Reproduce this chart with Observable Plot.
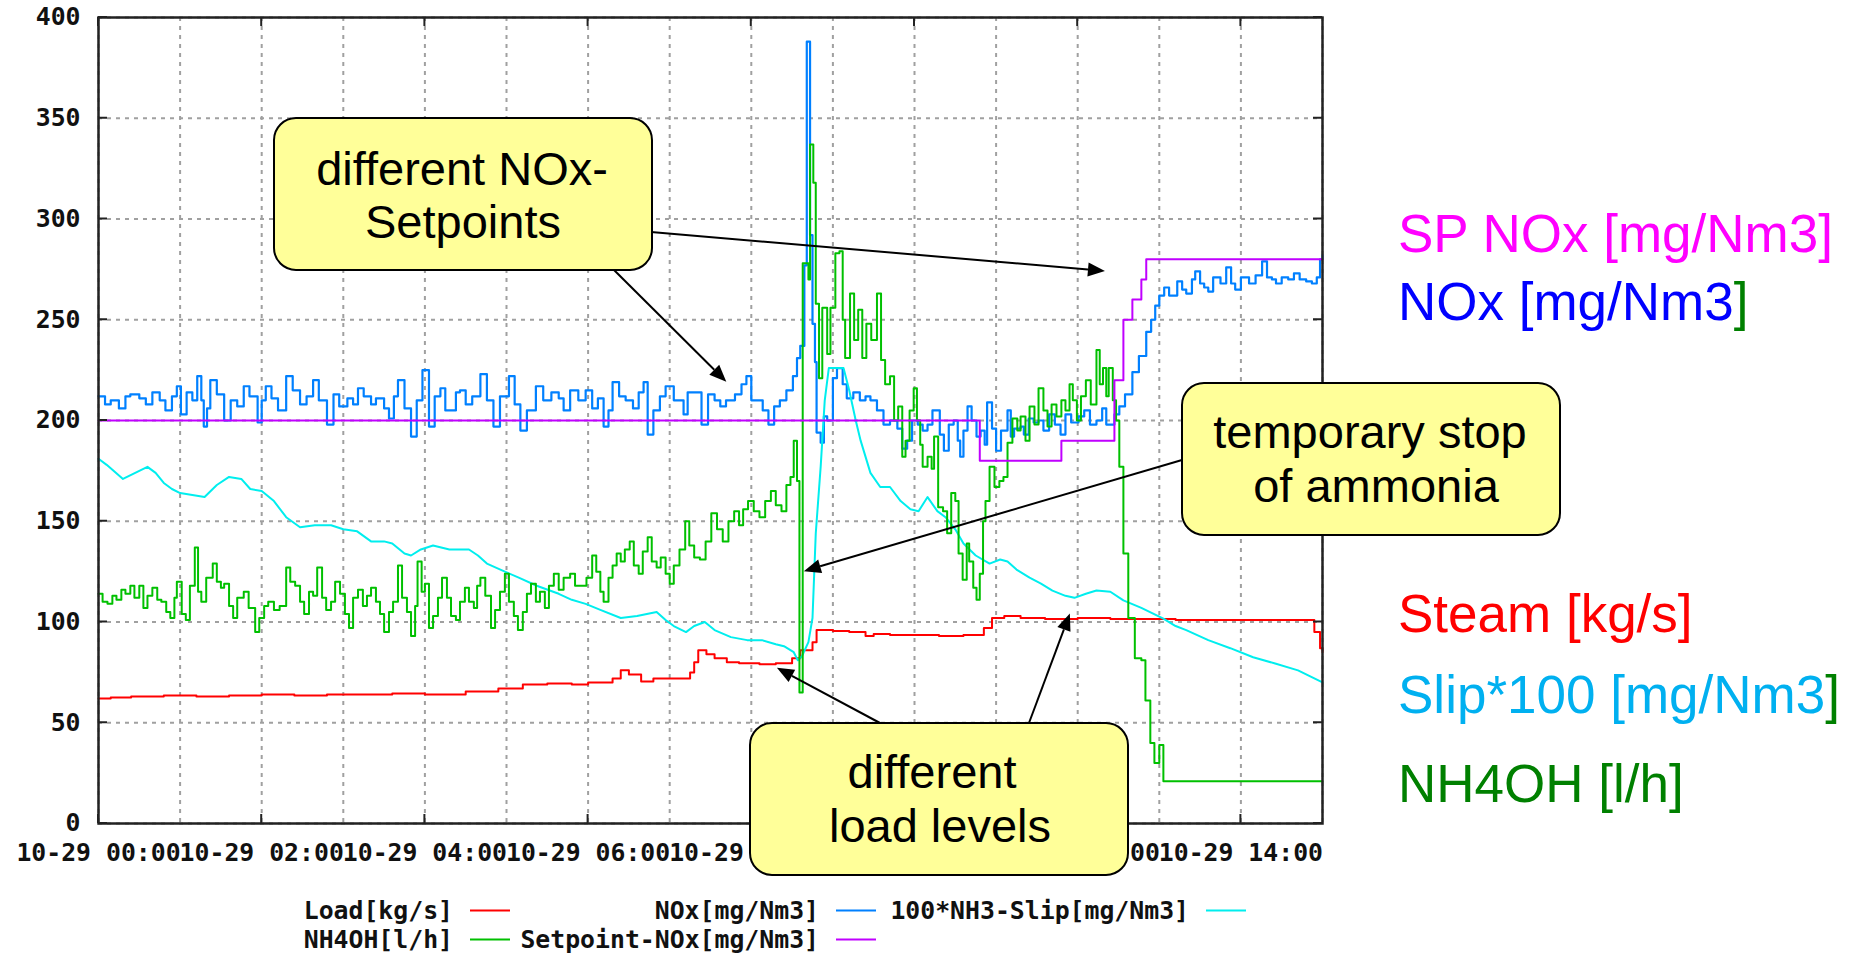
<!DOCTYPE html>
<html><head><meta charset="utf-8">
<script src="https://cdn.jsdelivr.net/npm/d3@7"></script>
<script src="https://cdn.jsdelivr.net/npm/@observablehq/plot@0.6"></script>
<style>
html,body{margin:0;padding:0;background:#fff;}
#chart{position:relative;width:1860px;height:955px;overflow:hidden;}
</style></head><body><div id="chart"></div>
<script>
// ---------- data (hours since 10-29 00:00, value) ----------
const gridHours = [0,1,2,3,4,5,6,7,8,9,10,11,12,13,14,15];
const labelHours = [0,2,4,6,8,10,12,14];
const yTicks = [0,50,100,150,200,250,300,350,400];

const load = [[0,62],[0.15,62.5],[0.4,63],[0.8,63.5],[1.2,63],[1.6,63.5],[2,64],[2.4,63.5],[2.8,64],[3.2,64],[3.6,64.5],[4,64],[4.5,65.5],[4.9,67],[5.2,69],[5.5,69.5],[5.8,69],[6,70],[6.3,72],[6.4,76],[6.5,74],[6.65,70.5],[6.8,72],[7.1,72],[7.25,75],[7.3,80],[7.35,86],[7.45,84],[7.55,82],[7.7,80],[7.85,79.5],[8.1,79],[8.3,79.5],[8.5,82],[8.6,86],[8.75,90],[8.8,96],[9,95.5],[9.2,95],[9.4,93],[9.5,94],[9.7,93.5],[10,93.5],[10.3,93],[10.6,93.5],[10.85,97],[10.95,102],[11.1,103],[11.3,102],[11.6,101.5],[12,102],[12.4,101.5],[12.8,101.5],[13.2,101],[13.6,101],[14,101],[14.4,101],[14.8,101],[14.9,95],[14.97,87],[15,85]];

const nox = [[0,212],[0.08,208],[0.15,210],[0.25,206],[0.33,212],[0.39,213],[0.5,211],[0.58,208],[0.66,214],[0.75,210],[0.82,205],[0.9,212],[0.96,217],[1.01,203],[1.08,214],[1.15,210],[1.21,222],[1.26,210],[1.29,197],[1.33,206],[1.37,220],[1.45,213],[1.54,200],[1.62,210],[1.7,207],[1.78,217],[1.85,212],[1.95,199],[2,210],[2.05,217],[2.12,211],[2.2,205],[2.3,222],[2.38,215],[2.47,208],[2.55,212],[2.63,220],[2.7,210],[2.8,198],[2.88,213],[2.95,207],[3.05,211],[3.12,208],[3.18,216],[3.25,212],[3.34,208],[3.4,211],[3.5,206],[3.56,201],[3.62,212],[3.67,220],[3.75,206],[3.83,192],[3.9,210],[3.97,225],[4.05,197],[4.12,212],[4.19,216],[4.25,205],[4.32,205],[4.38,214],[4.43,215],[4.5,208],[4.58,212],[4.68,223],[4.76,210],[4.84,197],[4.92,212],[5.03,222],[5.1,208],[5.17,195],[5.25,205],[5.36,217],[5.45,210],[5.55,214],[5.64,211],[5.7,205],[5.78,215],[5.88,210],[5.97,215],[6.05,206],[6.12,211],[6.19,197],[6.25,205],[6.3,219],[6.38,212],[6.46,210],[6.55,206],[6.62,214],[6.68,219],[6.73,193],[6.8,205],[6.88,212],[6.95,217],[7.05,210],[7.17,203],[7.22,214],[7.28,214],[7.39,198],[7.47,213],[7.55,210],[7.62,207],[7.69,210],[7.8,213],[7.88,218],[7.94,222],[8,210],[8.07,210],[8.14,205],[8.21,198],[8.28,207],[8.35,210],[8.43,215],[8.51,222],[8.56,231],[8.6,237],[8.65,277],[8.68,388],[8.72,292],[8.75,248],[8.78,229],[8.8,194],[8.85,189],[8.89,202],[8.93,200],[9,221],[9.05,226],[9.12,218],[9.17,211],[9.25,214],[9.33,210],[9.4,212],[9.46,210],[9.54,205],[9.62,198],[9.7,200],[9.79,196],[9.85,186],[9.91,190],[9.97,200],[10.04,198],[10.1,195],[10.16,198],[10.22,205],[10.26,205],[10.31,193],[10.36,185],[10.42,198],[10.48,200],[10.53,190],[10.56,182],[10.6,195],[10.65,207],[10.7,200],[10.76,192],[10.81,195],[10.86,188],[10.89,209],[10.95,196],[11,185],[11.06,195],[11.14,205],[11.18,192],[11.22,196],[11.3,197],[11.34,193],[11.4,201],[11.46,199],[11.52,200],[11.58,195],[11.65,203],[11.72,198],[11.79,193],[11.85,203],[11.92,199],[12.01,202],[12.08,205],[12.15,198],[12.23,200],[12.3,206],[12.35,198],[12.4,198],[12.45,203],[12.51,207],[12.58,213],[12.67,224],[12.75,232],[12.84,244],[12.9,250],[12.95,257],[13,262],[13.06,266],[13.12,262],[13.22,269],[13.28,265],[13.33,263],[13.4,270],[13.44,274],[13.5,268],[13.55,266],[13.6,264],[13.66,271],[13.75,268],[13.82,276],[13.88,268],[13.93,265],[14,271],[14.1,268],[14.18,272],[14.26,279],[14.32,271],[14.38,270],[14.43,268],[14.5,271],[14.58,270],[14.65,273],[14.72,270],[14.8,269],[14.87,268],[14.93,271],[14.97,280],[15,282]];

const slip = [[0,181],[0.1,178],[0.3,171],[0.45,174],[0.6,177],[0.7,174],[0.8,169],[0.9,166],[1,164],[1.15,163],[1.3,162],[1.45,168],[1.6,172],[1.75,171],[1.86,166],[2,165],[2.15,160],[2.3,152],[2.47,147],[2.65,148],[2.85,148],[3,146],[3.17,145],[3.34,140],[3.5,140],[3.6,139],[3.75,134],[3.83,133],[3.95,136],[4.1,138],[4.3,136],[4.54,136],[4.65,133],[4.76,129],[4.98,125],[5.15,122],[5.37,118],[5.64,114],[5.8,111],[5.97,109],[6.15,106],[6.4,102],[6.6,103],[6.84,105],[6.95,101],[7.05,98],[7.2,95],[7.3,98],[7.43,100],[7.55,96],[7.75,92.5],[7.95,91],[8.13,91],[8.3,89],[8.4,88],[8.52,85],[8.57,81],[8.62,83],[8.7,90],[8.75,102],[8.79,144],[8.85,177],[8.9,210],[8.95,226],[9.13,226],[9.2,215],[9.28,200],[9.34,190],[9.46,174],[9.58,167],[9.7,167],[9.83,160],[9.95,156],[10.05,155],[10.16,162],[10.28,155],[10.38,152],[10.5,146],[10.6,139],[10.75,133],[10.92,129],[11.05,131],[11.14,130],[11.25,126],[11.41,122],[11.55,119],[11.69,115.6],[11.85,113],[11.96,112],[12.1,114],[12.23,115.6],[12.4,115],[12.56,110.7],[12.78,107],[13.05,101.7],[13.2,98],[13.33,96],[13.6,91],[13.87,87],[14.15,82.5],[14.42,79.4],[14.7,76],[14.85,73],[15,70]];

const nh4oh = [[0,114],[0.05,110],[0.11,109],[0.17,113],[0.22,111],[0.28,116],[0.33,114],[0.39,118],[0.44,112],[0.5,118],[0.55,107],[0.6,113],[0.66,117],[0.72,111],[0.77,110],[0.83,105],[0.88,102],[0.93,112],[0.96,120],[1.02,104],[1.07,101],[1.12,118],[1.18,137],[1.22,115],[1.26,110],[1.32,122],[1.4,129],[1.45,120],[1.5,117],[1.54,119],[1.6,108],[1.65,102],[1.7,112],[1.78,115],[1.84,107],[1.92,95],[1.97,102],[2.03,108],[2.08,110],[2.15,106],[2.22,108],[2.3,127],[2.35,120],[2.41,118],[2.47,110],[2.52,104],[2.58,115],[2.63,113],[2.68,127],[2.74,112],[2.79,106],[2.85,110],[2.9,120],[2.96,114],[3.02,104],[3.07,97],[3.12,112],[3.18,116],[3.24,108],[3.29,113],[3.34,117],[3.4,110],[3.45,104],[3.5,95],[3.56,105],[3.61,110],[3.67,128],[3.72,112],[3.78,105],[3.83,93],[3.88,108],[3.91,130],[3.96,115],[4,119],[4.05,97],[4.1,103],[4.16,112],[4.21,122],[4.27,112],[4.32,103],[4.38,101],[4.43,110],[4.49,117],[4.54,110],[4.6,107],[4.64,118],[4.68,122],[4.74,113],[4.81,97],[4.86,106],[4.92,115],[4.98,124],[5.03,110],[5.09,103],[5.14,96],[5.2,105],[5.25,114],[5.3,119],[5.36,110],[5.41,115],[5.47,107],[5.52,118],[5.58,124],[5.64,116],[5.7,122],[5.78,124],[5.84,118],[5.92,118],[5.98,122],[6.05,133],[6.1,125],[6.15,115],[6.19,110],[6.25,122],[6.3,128],[6.35,134],[6.4,130],[6.45,136],[6.51,140],[6.56,128],[6.62,124],[6.67,135],[6.73,142],[6.78,130],[6.84,127],[6.89,132],[6.95,124],[7,119],[7.05,128],[7.12,136],[7.19,150],[7.24,138],[7.3,132],[7.37,131],[7.44,140],[7.51,154],[7.58,146],[7.65,140],[7.72,150],[7.79,155],[7.85,148],[7.9,156],[7.96,160],[8.03,155],[8.1,152],[8.17,160],[8.24,165],[8.3,158],[8.37,155],[8.43,168],[8.48,172],[8.52,190],[8.56,170],[8.59,65],[8.63,278],[8.7,270],[8.72,337],[8.76,318],[8.79,258],[8.83,221],[8.87,256],[8.93,233],[8.97,256],[9.03,283],[9.08,284],[9.12,250],[9.15,231],[9.21,263],[9.26,240],[9.31,255],[9.36,231],[9.41,248],[9.47,240],[9.54,263],[9.59,230],[9.64,218],[9.7,222],[9.75,200],[9.8,207],[9.85,182],[9.89,190],[9.94,205],[9.99,216],[10.03,200],[10.07,188],[10.1,177],[10.16,182],[10.21,176],[10.24,192],[10.29,157],[10.35,155],[10.4,144],[10.45,164],[10.5,160],[10.54,134],[10.59,121],[10.64,139],[10.67,130],[10.72,117],[10.76,111],[10.8,124],[10.84,150],[10.87,160],[10.92,177],[10.98,167],[11.04,170],[11.09,172],[11.14,189],[11.2,201],[11.26,195],[11.3,202],[11.36,190],[11.41,207],[11.47,198],[11.52,216],[11.58,205],[11.63,197],[11.68,208],[11.74,202],[11.8,210],[11.85,205],[11.9,218],[11.94,210],[11.99,200],[12.04,212],[12.1,220],[12.16,208],[12.23,235],[12.27,218],[12.31,226],[12.35,212],[12.38,226],[12.43,210],[12.47,200],[12.51,177],[12.56,134],[12.62,102],[12.7,82],[12.78,81],[12.83,61],[12.89,40],[12.94,30],[13,39],[13.05,21],[15,21]];

const setpoint = [[0,200],[10.8,180],[11.8,190],[12.45,220],[12.56,250],[12.67,260],[12.78,270],[12.84,280],[15,280]];

// ---------- helpers ----------
const T0 = Date.UTC(2009, 9, 29);
const t = h => new Date(T0 + h * 3600000);
const rows = pairs => pairs.map(([h, v]) => ({time: t(h), value: v}));

const MONO = "'DejaVu Sans Mono', 'Liberation Mono', monospace";
const SANS = "'Liberation Sans', Arial, Helvetica, sans-serif";
const C = {load:"#ff0000", nox:"#0080ff", slip:"#00eeee", nh4oh:"#00c000", sp:"#c000ff"};
const gridStyle = {stroke:"#a0a0a0", strokeOpacity:1, strokeWidth:2, strokeDasharray:"4,5"};
const tickText = {fontFamily: MONO, fontSize: 24.8, fontWeight: "bold", fill: "#111"};

const plot = Plot.plot({
  width: 1860, height: 955,
  marginLeft: 98, marginRight: 538, marginTop: 17, marginBottom: 132,
  x: {type: "utc", domain: [t(0), t(15)]},
  y: {domain: [0, 400]},
  style: {background: "#fff", fontFamily: MONO, overflow: "visible"},
  marks: [
    Plot.gridX({ticks: gridHours.map(t), ...gridStyle}),
    Plot.gridY({ticks: yTicks, ...gridStyle}),
    Plot.axisX({ticks: labelHours.map(t), tickFormat: d3.utcFormat("%m-%d %H:%M"), tickSize: 0, tickPadding: 20, label: null, ...tickText}),
    Plot.axisY({ticks: yTicks, tickFormat: d => String(d), tickSize: 0, tickPadding: 18, label: null, ...tickText}),
    Plot.line(rows(load), {x: "time", y: "value", stroke: C.load, strokeWidth: 2, curve: "step-after"}),
    Plot.line(rows(nox), {x: "time", y: "value", stroke: C.nox, strokeWidth: 2.2, curve: "step-after"}),
    Plot.line(rows(slip), {x: "time", y: "value", stroke: C.slip, strokeWidth: 2}),
    Plot.line(rows(nh4oh), {x: "time", y: "value", stroke: C.nh4oh, strokeWidth: 2, curve: "step-after"}),
    Plot.line(rows(setpoint), {x: "time", y: "value", stroke: C.sp, strokeWidth: 2, curve: "step-after"}),
    Plot.frame({stroke: "#222", strokeWidth: 2.5})
  ]
});
document.getElementById("chart").appendChild(plot);

// ---------- decorations via scales ----------
const svg = d3.select(plot);
const X = h => plot.scale("x").apply(t(h));
const Y = v => plot.scale("y").apply(v);
const xL = X(0), xR = X(15), yB = Y(0), yT = Y(400);

// inward tick marks
const tk = svg.append("g").attr("stroke", "#222").attr("stroke-width", 2);
yTicks.forEach(v => {
  tk.append("line").attr("x1", xL).attr("x2", xL + 9).attr("y1", Y(v)).attr("y2", Y(v));
  tk.append("line").attr("x1", xR - 9).attr("x2", xR).attr("y1", Y(v)).attr("y2", Y(v));
});
labelHours.forEach(h => {
  tk.append("line").attr("x1", X(h)).attr("x2", X(h)).attr("y1", yB - 9).attr("y2", yB);
  tk.append("line").attr("x1", X(h)).attr("x2", X(h)).attr("y1", yT).attr("y2", yT + 9);
});

// arrows (tail at callout box, tip on data feature)
const arrows = [
  {from: [651, 232], to: [12.34, 274]},
  {from: [614, 270], to: [7.70, 219]},
  {from: [1182, 460], to: [8.65, 125]},
  {from: [880, 723], to: [8.32, 77]},
  {from: [1029, 723], to: [11.91, 104]}
];
const ag = svg.append("g");
arrows.forEach(a => {
  const [x1, y1] = a.from, x2 = X(a.to[0]), y2 = Y(a.to[1]);
  const dx = x2 - x1, dy = y2 - y1, L = Math.hypot(dx, dy), ux = dx / L, uy = dy / L;
  const hl = 17, hw = 7;
  const bx = x2 - ux * hl, by = y2 - uy * hl;
  ag.append("line").attr("x1", x1).attr("y1", y1).attr("x2", bx).attr("y2", by)
    .attr("stroke", "#000").attr("stroke-width", 2);
  ag.append("path").attr("fill", "#000")
    .attr("d", `M${x2},${y2}L${bx - uy * hw},${by + ux * hw}L${bx + uy * hw},${by - ux * hw}Z`);
});

// callout boxes
const boxes = [
  {x: 274, y: 118, lines: [["different NOx-", 462, 185], ["Setpoints", 463, 238]]},
  {x: 1182, y: 383, lines: [["temporary stop", 1370, 448], ["of ammonia", 1376, 502]]},
  {x: 750, y: 723, lines: [["different", 932, 788], ["load levels", 940, 842]]}
];
boxes.forEach(b => {
  const g = svg.append("g");
  g.append("rect").attr("x", b.x).attr("y", b.y).attr("width", 378).attr("height", 152)
    .attr("rx", 22).attr("fill", "#ffff99").attr("stroke", "#000").attr("stroke-width", 2);
  b.lines.forEach(([s, cx, by]) => g.append("text").attr("x", cx).attr("y", by)
    .attr("text-anchor", "middle").attr("font-family", SANS).attr("font-size", 47)
    .attr("fill", "#000").text(s));
});

// right-hand labels
const rl = [
  {y: 252, parts: [["SP NOx [mg/Nm3]", "#ff00ff"]]},
  {y: 320, parts: [["NOx [mg/Nm3", "#0000ff"], ["]", "#008000"]]},
  {y: 632, parts: [["Steam [kg/s]", "#ff0000"]]},
  {y: 713, parts: [["Slip*100 [mg/Nm3", "#00b0f0"], ["]", "#008000"]]},
  {y: 802, parts: [["NH4OH [l/h]", "#008000"]]}
];
rl.forEach(r => {
  const tx = svg.append("text").attr("x", 1398).attr("y", r.y).attr("text-anchor", "start")
    .attr("font-family", SANS).attr("font-size", 53);
  r.parts.forEach(([s, c]) => tx.append("tspan").attr("fill", c).text(s));
});

// bottom key
const key = [
  {label: "Load[kg/s]", color: C.load, end: 453, y: 919},
  {label: "NOx[mg/Nm3]", color: C.nox, end: 819, y: 919},
  {label: "100*NH3-Slip[mg/Nm3]", color: C.slip, end: 1189, y: 919},
  {label: "NH4OH[l/h]", color: C.nh4oh, end: 453, y: 948},
  {label: "Setpoint-NOx[mg/Nm3]", color: C.sp, end: 819, y: 948}
];
const kg = svg.append("g");
key.forEach(k => {
  kg.append("text").attr("x", k.end).attr("y", k.y).attr("text-anchor", "end")
    .attr("font-family", MONO).attr("font-size", 24.8).attr("font-weight", "bold")
    .attr("fill", "#111").text(k.label);
  kg.append("line").attr("x1", k.end + 17).attr("x2", k.end + 57)
    .attr("y1", k.y - 8.5).attr("y2", k.y - 8.5).attr("stroke", k.color).attr("stroke-width", 2);
});
</script></body></html>
